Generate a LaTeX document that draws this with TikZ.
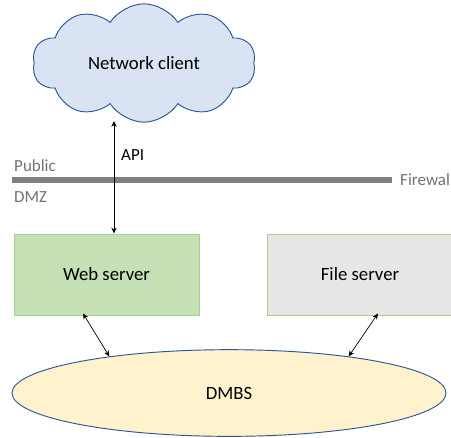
\documentclass[tikz,border=0pt]{standalone}
\usepackage{fontspec}
\setmainfont{Carlito}
\usetikzlibrary{shapes.symbols,shapes.geometric,calc,arrows.meta}
\definecolor{nuage}{HTML}{DAE3F3}
\definecolor{bleu}{HTML}{2F5597}
\definecolor{vert}{HTML}{C5E0B4}
\definecolor{vertbord}{HTML}{A9D18E}
\definecolor{gris}{HTML}{E6E6E6}
\definecolor{jaune}{HTML}{FFF2CC}
\definecolor{texte}{HTML}{767171}
\begin{document}
\begin{tikzpicture}[x=0.03cm,y=-0.03cm]
\tikzstyle{lien}=[{Stealth[length=5pt,width=4.5pt]}-{Stealth[length=5pt,width=4.5pt]},semithick]
\tikzset{serveur/.style={draw=vertbord,thick,fill=#1,minimum width=5.55cm,minimum height=2.43cm,font=\fontsize{16}{19}\selectfont},
serveur/.default={vert},
zone/.style={text=texte,font=\fontsize{14.5}{17}\selectfont,anchor=west,inner sep=0pt}}
\useasboundingbox (0,0) rectangle (451,437);

\node[cloud,cloud puffs=10,cloud puff arc=115,aspect=2.1,draw=bleu,thick,fill=nuage,minimum width=6.7cm,minimum height=3.55cm,font=\fontsize{16}{19}\selectfont] (client) at (144,63){Network client};

% firewall
\coordinate (F1) at (12,180);
\coordinate (F2) at (392,180);
\draw[line width=4.5pt,color=texte!90] (F1) -- (F2);
\node[zone] (pub) at (14,166){Public};
\node[zone] (dmz) at (14,197){DMZ};
\node[zone] (fw) at (400,180){Firewall};

\node[serveur] (web) at (106.5,274.5){Web server};
\node[serveur=gris] (file) at (360,274.5){File server};

\node[ellipse,draw=bleu,thick,fill=jaune,minimum width=13.02cm,minimum height=2.6cm,font=\fontsize{16}{19}\selectfont] (db) at (229,393){DMBS};

\coordinate (api) at (114,121);
\draw[lien] (api) -- (api |- web.north);
\node[font=\fontsize{14.5}{17}\selectfont,anchor=west,inner sep=0pt] (apilab) at (121,155){API};

\draw[lien] ($(web.south)+(-23.5,-2)$) -- (db.163);
\draw[lien] ($(file.south)+(18,-2)$) -- (db.17);
\end{tikzpicture}
\end{document}
